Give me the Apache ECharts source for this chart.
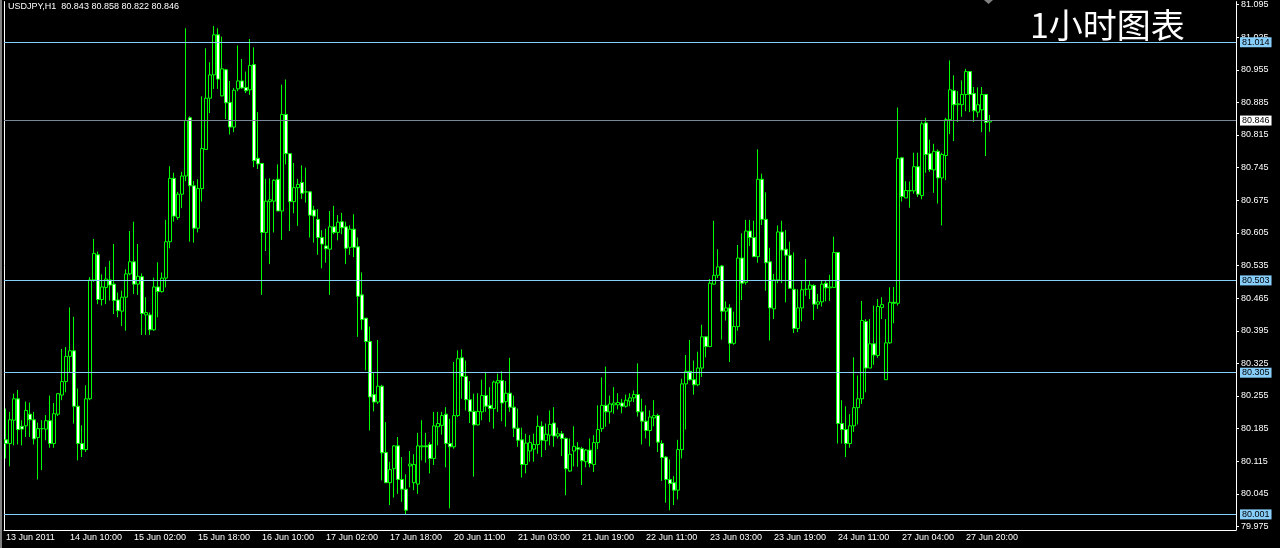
<!DOCTYPE html>
<html><head><meta charset="utf-8">
<script src="https://cdn.jsdelivr.net/npm/echarts@6/dist/echarts.min.js"></script>
<style>html,body{margin:0;padding:0;background:#000;}#c{width:1280px;height:548px;}</style>
</head><body><div id="c"></div>
<script>
// trading sessions: [day, first hour, last hour]
const sessions = [['13 Jun',18,23],['14 Jun',0,23],['15 Jun',0,23],['16 Jun',0,23],['17 Jun',0,23],
  ['20 Jun',1,23],['21 Jun',0,23],['22 Jun',0,23],['23 Jun',0,23],['24 Jun',0,23],['27 Jun',1,23],['28 Jun',0,2]];
const firstLabel = '13 Jun 2011';
const symbolName = 'USDJPY,H1';
const chartTitle = '1小时图表';

const open = [80.161,80.153,80.203,80.249,80.190,80.191,80.216,80.204,80.166,80.185,80.184,80.202,80.153,80.216,80.257,80.286,80.340,80.352,80.233,80.153,
80.140,80.249,80.504,80.558,80.462,80.488,80.504,80.495,80.461,80.437,80.467,80.517,80.543,80.495,80.511,80.429,80.429,80.397,80.489,80.479,
80.508,80.586,80.722,80.638,80.688,80.727,80.852,80.706,80.615,80.700,80.784,80.894,80.944,81.030,80.899,80.955,80.885,80.832,80.914,80.931,
80.917,80.912,80.966,80.765,80.754,80.606,80.672,80.673,80.720,80.652,80.859,80.775,80.672,80.702,80.713,80.693,80.693,80.654,80.634,80.595,
80.577,80.570,80.618,80.606,80.629,80.618,80.574,80.613,80.575,80.472,80.422,80.372,80.258,80.242,80.276,80.134,80.069,80.099,80.148,80.076,
80.055,80.105,80.069,80.066,80.146,80.148,80.151,80.121,80.189,80.192,80.216,80.153,80.146,80.213,80.337,80.297,80.247,80.222,80.193,80.221,
80.256,80.235,80.228,80.283,80.288,80.243,80.261,80.231,80.186,80.161,80.108,80.137,80.141,80.151,80.190,80.159,80.171,80.197,80.169,80.174,
80.164,80.094,80.137,80.144,80.142,80.114,80.139,80.108,80.155,80.185,80.235,80.221,80.236,80.236,80.240,80.233,80.244,80.251,80.258,80.221,
80.201,80.181,80.208,80.213,80.153,80.124,80.076,80.069,80.053,80.140,80.281,80.308,80.290,80.279,80.315,80.382,80.361,80.495,80.514,80.534,
80.437,80.444,80.368,80.404,80.551,80.499,80.609,80.595,80.554,80.720,80.634,80.543,80.442,80.504,80.607,80.570,80.557,80.484,80.400,80.444,
80.484,80.484,80.492,80.452,80.457,80.497,80.487,80.488,80.563,80.196,80.183,80.153,80.191,80.230,80.249,80.415,80.315,80.367,80.342,80.445,
80.290,80.369,80.456,80.454,80.766,80.680,80.695,80.695,80.747,80.685,80.841,80.775,80.740,80.780,80.723,80.771,80.848,80.910,80.880,80.880,
80.902,80.951,80.904,80.864,80.869,80.902,80.843];
const close = [80.153,80.204,80.249,80.183,80.184,80.224,80.204,80.163,80.185,80.185,80.202,80.153,80.217,80.260,80.286,80.340,80.352,80.233,80.153,80.140,
80.249,80.504,80.561,80.462,80.489,80.506,80.493,80.460,80.438,80.467,80.517,80.543,80.495,80.512,80.432,80.434,80.397,80.489,80.479,80.508,
80.586,80.722,80.641,80.688,80.727,80.846,80.706,80.615,80.700,80.786,80.894,80.944,81.030,80.935,80.957,80.884,80.832,80.911,80.931,80.916,
80.910,80.964,80.760,80.753,80.606,80.673,80.676,80.718,80.652,80.859,80.775,80.672,80.702,80.709,80.690,80.693,80.643,80.641,80.595,80.581,
80.571,80.618,80.606,80.628,80.616,80.572,80.613,80.574,80.469,80.419,80.372,80.253,80.242,80.276,80.133,80.069,80.097,80.148,80.076,80.055,
80.010,80.109,80.108,80.148,80.148,80.146,80.121,80.191,80.196,80.213,80.153,80.146,80.213,80.335,80.297,80.247,80.222,80.193,80.222,80.256,
80.233,80.228,80.285,80.288,80.240,80.261,80.231,80.186,80.160,80.108,80.154,80.155,80.151,80.190,80.160,80.173,80.194,80.169,80.174,80.164,
80.099,80.130,80.147,80.141,80.116,80.139,80.110,80.155,80.183,80.235,80.221,80.238,80.240,80.241,80.233,80.246,80.251,80.258,80.221,80.201,
80.181,80.210,80.213,80.156,80.123,80.076,80.067,80.053,80.140,80.281,80.308,80.290,80.279,80.315,80.382,80.361,80.497,80.514,80.532,80.437,
80.444,80.368,80.404,80.551,80.497,80.609,80.595,80.554,80.720,80.634,80.541,80.444,80.504,80.607,80.568,80.557,80.486,80.400,80.444,80.483,
80.484,80.493,80.452,80.457,80.495,80.487,80.489,80.563,80.196,80.183,80.153,80.191,80.230,80.249,80.417,80.315,80.367,80.343,80.447,80.451,
80.369,80.456,80.454,80.765,80.683,80.696,80.696,80.747,80.688,80.839,80.773,80.741,80.780,80.723,80.773,80.848,80.912,80.880,80.882,80.902,
80.951,80.902,80.867,80.880,80.902,80.842,80.846];
const low = [80.121,80.104,80.149,80.151,80.149,80.167,80.167,80.151,80.076,80.096,80.160,80.144,80.144,80.212,80.246,80.263,80.306,80.196,80.117,80.124,
80.135,80.246,80.500,80.452,80.449,80.452,80.460,80.431,80.424,80.405,80.395,80.514,80.474,80.472,80.386,80.386,80.386,80.395,80.424,80.477,
80.488,80.572,80.629,80.633,80.658,80.716,80.586,80.584,80.606,80.672,80.784,80.862,80.914,80.914,80.898,80.849,80.816,80.821,80.909,80.914,
80.905,80.901,80.746,80.742,80.472,80.566,80.538,80.606,80.652,80.590,80.752,80.609,80.647,80.620,80.678,80.670,80.595,80.584,80.558,80.529,
80.541,80.472,80.602,80.589,80.602,80.538,80.558,80.553,80.382,80.397,80.310,80.181,80.222,80.238,80.074,80.069,80.021,80.037,80.045,80.028,
80.000,80.059,80.053,80.045,80.117,80.112,80.089,80.107,80.149,80.172,80.102,80.014,80.142,80.210,80.249,80.224,80.197,80.082,80.192,80.203,
80.221,80.199,80.185,80.221,80.201,80.189,80.221,80.167,80.146,80.080,80.089,80.114,80.114,80.131,80.124,80.139,80.149,80.146,80.164,80.126,
80.042,80.092,80.104,80.103,80.064,80.102,80.102,80.092,80.141,80.178,80.189,80.196,80.217,80.226,80.218,80.230,80.233,80.242,80.211,80.151,
80.164,80.147,80.190,80.135,80.073,80.026,80.010,80.021,80.033,80.121,80.183,80.288,80.258,80.276,80.296,80.338,80.360,80.494,80.508,80.376,
80.417,80.328,80.365,80.395,80.461,80.494,80.577,80.554,80.541,80.622,80.481,80.374,80.420,80.497,80.497,80.456,80.486,80.390,80.392,80.415,
80.470,80.463,80.418,80.442,80.447,80.458,80.459,80.487,80.153,80.153,80.124,80.144,80.178,80.194,80.238,80.263,80.315,80.322,80.337,80.420,
80.290,80.367,80.411,80.449,80.672,80.680,80.659,80.689,80.682,80.677,80.734,80.736,80.691,80.668,80.621,80.718,80.817,80.802,80.843,80.854,
80.866,80.864,80.843,80.853,80.821,80.770,80.822];
const high = [80.228,80.221,80.260,80.268,80.203,80.243,80.241,80.221,80.198,80.203,80.214,80.256,80.240,80.261,80.356,80.360,80.445,80.425,80.271,80.192,
80.278,80.510,80.592,80.565,80.516,80.532,80.545,80.581,80.477,80.481,80.527,80.609,80.629,80.581,80.518,80.467,80.434,80.509,80.542,80.520,
80.633,80.748,80.734,80.693,80.736,81.044,80.855,80.716,80.720,80.898,81.001,80.971,81.049,81.044,81.026,80.957,80.931,80.916,81.007,80.978,
80.951,81.021,81.003,80.864,80.754,80.721,80.722,80.720,80.752,80.923,80.934,80.775,80.755,80.721,80.750,80.745,80.695,80.663,80.656,80.611,
80.614,80.652,80.663,80.643,80.648,80.629,80.621,80.645,80.595,80.520,80.422,80.404,80.305,80.375,80.279,80.199,80.114,80.149,80.167,80.124,
80.087,80.137,80.130,80.176,80.203,80.176,80.156,80.221,80.221,80.221,80.231,80.206,80.328,80.353,80.355,80.331,80.287,80.260,80.261,80.290,
80.305,80.274,80.288,80.303,80.308,80.287,80.337,80.256,80.228,80.187,80.174,80.171,80.174,80.213,80.201,80.196,80.224,80.231,80.187,80.180,
80.166,80.164,80.190,80.156,80.146,80.141,80.164,80.171,80.235,80.295,80.318,80.256,80.274,80.261,80.249,80.258,80.261,80.267,80.325,80.249,
80.235,80.224,80.246,80.217,80.160,80.126,80.119,80.083,80.161,80.292,80.343,80.375,80.331,80.350,80.408,80.382,80.506,80.631,80.570,80.536,
80.458,80.452,80.436,80.579,80.604,80.633,80.633,80.631,80.784,80.732,80.692,80.573,80.517,80.621,80.631,80.611,80.586,80.563,80.484,80.502,
80.549,80.502,80.495,80.474,80.502,80.502,80.515,80.597,80.563,80.246,80.233,80.216,80.338,80.299,80.459,80.420,80.420,80.449,80.463,80.467,
80.420,80.488,80.489,80.874,80.768,80.716,80.715,80.777,80.777,80.844,80.852,80.805,80.796,80.784,80.777,80.852,80.975,80.943,80.909,80.932,
80.957,80.951,80.918,80.917,80.918,80.903,80.858];

const priceTicks = [81.095,81.025,80.955,80.885,80.815,80.745,80.675,80.605,80.535,80.465,80.395,80.325,80.255,80.185,80.115,80.045,79.975];
const levelLines = [81.014, 80.503, 80.305, 80.001];

const N = open.length;
const categories = [];
sessions.forEach(([d, h0, h1]) => { for (let h = h0; h <= h1; h++) categories.push(d + ' ' + String(h).padStart(2, '0') + ':00'); });
const ohlc = open.map((o, i) => [o, close[i], low[i], high[i]]);

const LIME = '#00ff00', SKY = '#87cefa', FONT = 'Liberation Sans', FS = 9;
const Y_MIN = 79.9675, Y_MAX = 81.1012, SLOTS = 308;
const showTick = (i) => i % 16 === 0 && i < N;

const lvlLabel = (bg) => ({ show: true, position: 'end', distance: 4, backgroundColor: bg, color: '#000',
  fontFamily: FONT, fontSize: FS, padding: [1, 2, 0, 2], formatter: (p) => Number(p.value).toFixed(3) });

const chart = echarts.init(document.getElementById('c'), null, { renderer: 'canvas' });
chart.setOption({
  backgroundColor: '#000',
  animation: false,
  grid: { left: 4, top: 0, width: 1232, bottom: 18 },
  xAxis: {
    type: 'category', data: categories, max: SLOTS - 1, boundaryGap: true,
    axisLine: { lineStyle: { color: '#fff', width: 1 } },
    axisTick: { alignWithLabel: true, length: 4, interval: showTick, lineStyle: { color: '#fff' } },
    axisLabel: { interval: showTick, align: 'left', margin: 3, color: '#fff', fontSize: FS, fontFamily: FONT,
      formatter: (v, i) => (i === 0 ? firstLabel : v) },
    splitLine: { show: false }
  },
  yAxis: [{
    type: 'value', position: 'right', min: Y_MIN, max: Y_MAX,
    axisLine: { show: true, lineStyle: { color: '#fff' } },
    axisTick: { show: true, length: 3, customValues: priceTicks, lineStyle: { color: '#fff' } },
    axisLabel: { customValues: priceTicks, color: '#fff', fontSize: FS, fontFamily: FONT, margin: 5,
      formatter: (v) => v.toFixed(3) },
    splitLine: { show: false }
  }, {
    type: 'value', position: 'left', min: Y_MIN, max: Y_MAX,
    axisLine: { show: true, lineStyle: { color: '#fff' } },
    axisTick: { show: false }, axisLabel: { show: false }, splitLine: { show: false }
  }],
  series: [{
    type: 'candlestick', data: ohlc, barWidth: 3,
    itemStyle: { color: '#000', color0: '#ffffff', borderColor: LIME, borderColor0: LIME, borderColorDoji: LIME, borderWidth: 1 },
    markLine: {
      silent: true, symbol: 'none', animation: false, precision: 3,
      data: levelLines.map((v) => ({ yAxis: v, lineStyle: { color: SKY, type: 'solid', width: 1 }, label: lvlLabel(SKY) }))
        .concat([{ yAxis: close[N - 1], lineStyle: { color: '#778899', type: 'solid', width: 1 }, label: lvlLabel('#ffffff') }])
    }
  }],
  graphic: [
    { type: 'rect', shape: { x: 0, y: 0, width: 2, height: 548 }, style: { fill: '#808080' } },
    { type: 'text', x: 8, y: 2, style: { text: symbolName + '  ' + [open[N - 1], high[N - 1], low[N - 1], close[N - 1]].map((v) => v.toFixed(3)).join(' '),
      fill: '#fff', font: FS + 'px "' + FONT + '"' } },
    { type: 'text', x: 1030, y: 8, style: { text: chartTitle, fill: '#fff', font: '34px "Noto Sans CJK SC"' } },
    { type: 'polygon', shape: { points: [[984, 0], [993, 0], [988.5, 4]] }, style: { fill: '#808080' } }
  ]
});
</script></body></html>
